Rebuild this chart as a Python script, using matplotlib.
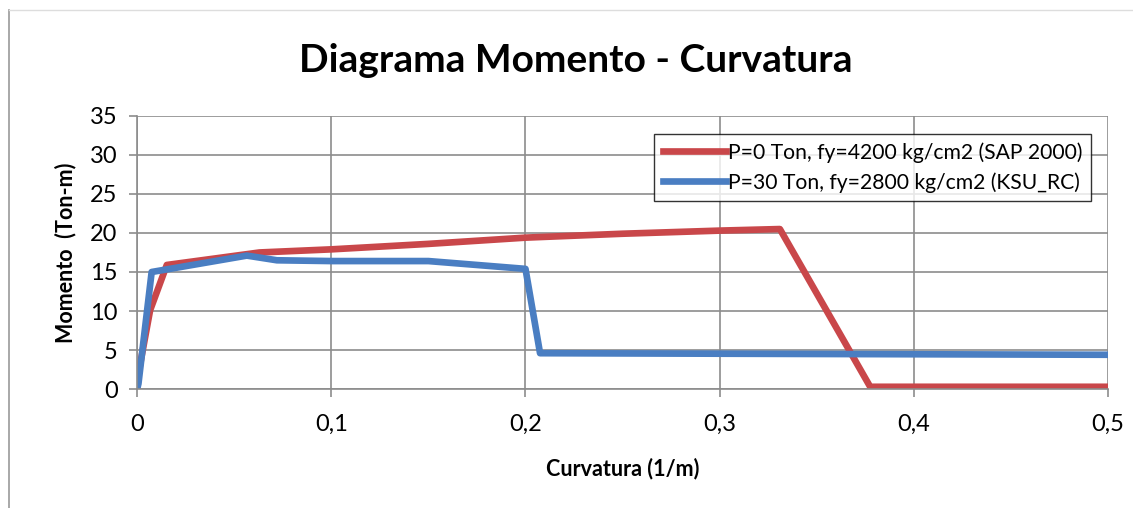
import matplotlib
matplotlib.use("Agg")
import matplotlib.pyplot as plt
from matplotlib.ticker import FuncFormatter

# P=0 Ton, fy=4200 kg/cm2 (SAP 2000)
curv_sap = [0.0, 0.0007, 0.0067, 0.0153, 0.063, 0.1, 0.15, 0.2, 0.25, 0.3, 0.331, 0.3775, 0.5]
mom_sap = [0.0, 2.0, 10.1, 15.9, 17.5, 17.9, 18.6, 19.4, 19.9, 20.3, 20.5, 0.3, 0.3]

# P=30 Ton, fy=2800 kg/cm2 (KSU_RC)
curv_ksu = [0.0, 0.0007, 0.0075, 0.0565, 0.072, 0.1, 0.15, 0.2, 0.2075, 0.35, 0.5]
mom_ksu = [0.0, 0.7, 15.0, 17.1, 16.5, 16.4, 16.4, 15.4, 4.6, 4.5, 4.4]

labels = ["P=0 Ton, fy=4200 kg/cm2 (SAP 2000)", "P=30 Ton, fy=2800 kg/cm2 (KSU_RC)"]

plt.rcParams['font.family'] = ['Lato', 'DejaVu Sans']

fig = plt.figure(figsize=(11.33, 5.08), dpi=100)
ax = fig.add_axes([0.121, 0.234, 0.857, 0.538])

ax.plot(curv_sap, mom_sap, color="#C9474A", lw=4.8, label=labels[0], solid_joinstyle="round")
ax.plot(curv_ksu, mom_ksu, color="#4A7EC2", lw=4.8, label=labels[1], solid_joinstyle="round")

ax.set_xlim(0, 0.5)
ax.set_ylim(0, 35)
ax.set_xticks([0, 0.1, 0.2, 0.3, 0.4, 0.5])
ax.set_yticks(range(0, 36, 5))
ax.xaxis.set_major_formatter(FuncFormatter(lambda v, p: "0" if v == 0 else f"{v:.1f}".replace(".", ",")))
ax.grid(True, color="#8c8c8c", lw=1.2)
ax.set_axisbelow(True)
for s in ["top", "right"]:
    ax.spines[s].set_visible(False)
for s in ["left", "bottom"]:
    ax.spines[s].set_color("#8c8c8c")
    ax.spines[s].set_linewidth(1.2)
ax.tick_params(direction="out", length=6, width=1.2, color="#8c8c8c", labelsize=17)
ax.tick_params(axis="x", pad=12)
ax.tick_params(axis="y", pad=8)

fig.text(0.508, 0.88, "Diagrama Momento - Curvatura", fontsize=28, fontweight="bold",
         ha="center", va="center")
ax.set_xlabel("Curvatura (1/m)", fontsize=15.5, fontweight="bold", labelpad=16)
ax.set_ylabel("Momento  (Ton-m)", fontsize=15.5, fontweight="bold", labelpad=10)

leg = ax.legend(loc="upper right", bbox_to_anchor=(0.987, 0.95), fontsize=15.2, frameon=True,
                fancybox=False, edgecolor="black", handlelength=3.0, handletextpad=0.1,
                borderpad=0.4, labelspacing=0.45, borderaxespad=0.2)
leg.get_frame().set_linewidth(1.0)

# outer chart border
fig.add_artist(plt.Line2D([0.008, 0.008], [0, 0.98], color="#999999", lw=1.2))
fig.add_artist(plt.Line2D([0.008, 1.0], [0.98, 0.98], color="#dddddd", lw=1.0))

fig.savefig("out.png", dpi=100)
